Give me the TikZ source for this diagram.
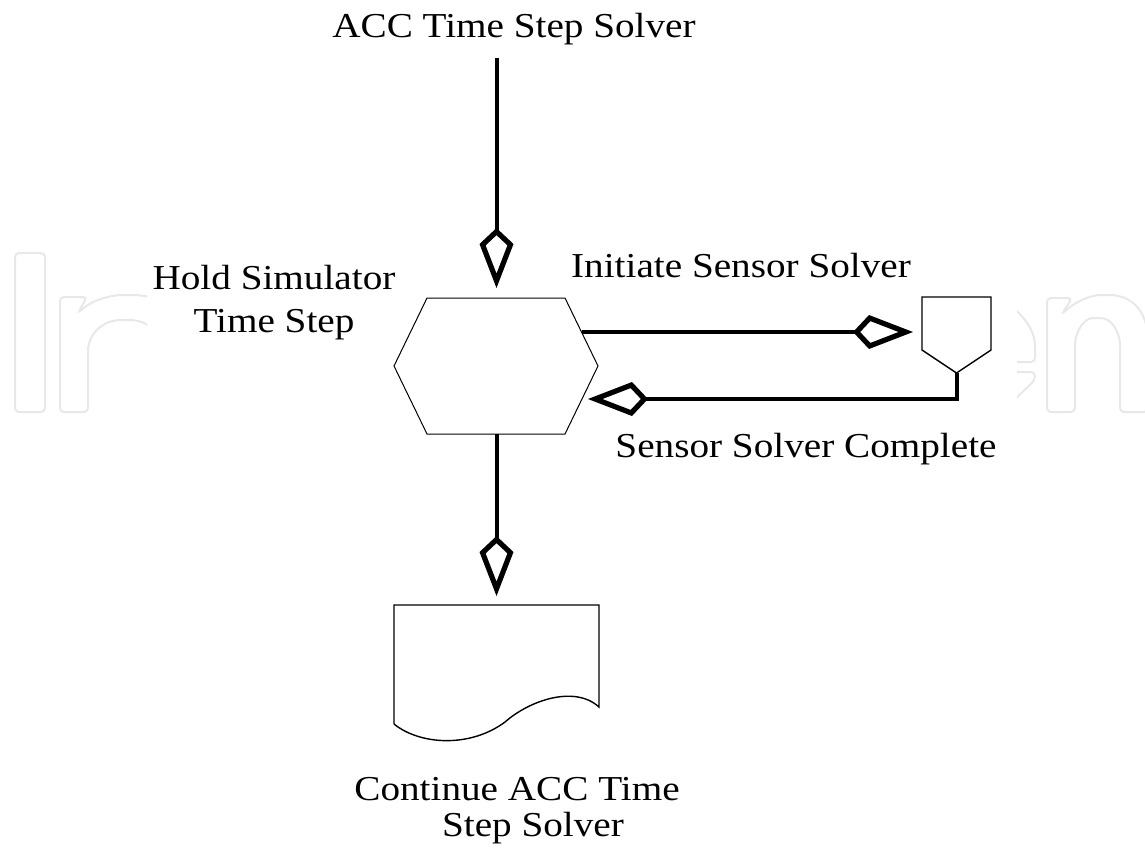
\documentclass[tikz,border=0pt]{standalone}
\usepackage{fontspec}
\setmainfont[FakeStretch=1.12]{Liberation Serif}
\usetikzlibrary{arrows.meta,calc}

\tikzset{
  % one unit = one pixel of the layout grid, y grows downwards
  x=0.5pt, y=-0.5pt,
  lbl/.style={anchor=base, inner sep=0pt, align=center,
              font=\fontsize{17.5}{21.5}\selectfont},
  flow/.style={line width=2pt, line join=miter,
               -{Kite[open,length=30pt,width=17pt,inset=8pt,line width=2.6pt]}},
  thinline/.style={line width=0.5pt},
  boxline/.style={line width=0.7pt},
  wmark/.style={draw=black!9, line width=1pt, rounded corners=2pt},
}

\begin{document}
\begin{tikzpicture}
\useasboundingbox (0,0) rectangle (1145,852);

% faint publisher lettering behind the chart, hidden in the middle
\begin{scope}
  \clip (0,240) rectangle (147,420) (1017,240) rectangle (1145,420);
  % I
  \draw[wmark] (15,253) rectangle (45,412);
  % n (left)
  \draw[wmark] (60,412) -- (60,297) -- (87,297) -- (78,313)
     .. controls (92,300) and (110,295) .. (128,295)
     .. controls (168,295) and (190,318) .. (190,355) -- (190,412) -- (162,412) -- (162,358)
     .. controls (162,335) and (150,320) .. (125,320)
     .. controls (102,320) and (88,335) .. (88,355) -- (88,412) -- cycle;
  % e (partial)
  \draw[wmark] (1005,302) .. controls (1025,315) and (1035,332) .. (1035,350)
     -- (1035,362) -- (1005,362);
  \draw[wmark] (1005,372) -- (1035,372) -- (1035,380) -- (1012,402);
  % n (right)
  \draw[wmark] (1047,412) -- (1047,298) -- (1072,298) -- (1062,314)
     .. controls (1075,302) and (1090,295) .. (1105,295)
     .. controls (1135,295) and (1148,315) .. (1148,345) -- (1148,412) -- (1120,412) -- (1120,350)
     .. controls (1120,330) and (1110,318) .. (1097,318)
     .. controls (1085,318) and (1075,330) .. (1075,350) -- (1075,412) -- cycle;
\end{scope}

% labels (a multi-line label sits on the baseline of its last line)
\node[lbl] (src)     at (514,37)  {ACC Time Step Solver};
\node[lbl] (holdlbl) at (274,332) {Hold Simulator\\Time Step};
\node[lbl] (initlbl) at (741,277) {Initiate Sensor Solver};
\node[lbl] (donelbl) at (806,457) {Sensor Solver Complete};
\node[lbl, font=\fontsize{17.5}{18}\selectfont] (contlbl) at (517,836)
      {Continue ACC Time\\\hspace*{16pt}Step Solver};

% hexagon: hold the simulator step
\draw[thinline] (427,298) -- (565,298) -- (598,366) -- (565,434)
                -- (427,434) -- (394,366) -- cycle;

% sensor solver symbol
\draw[boxline] (922,297) -- (991,297) -- (991,350) -- (956.5,373)
               -- (922,350) -- cycle;

% document symbol
\draw[boxline] (394,724) -- (394,605) -- (599,605) -- (599,707)
     .. controls (575,685) and (530,700) .. (505,722)
     .. controls (470,748) and (420,745) .. (394,724);

% connector end points on the shapes
\coordinate (srcEnd) at (496.5,58);
\coordinate (hexTop) at (496.5,298);
\coordinate (hexBot) at (496.5,434);
\coordinate (hexOut) at (581.5,332);
\coordinate (hexIn)  at (582,399);
\coordinate (sensW)  at (922,332);
\coordinate (sensS)  at (956.5,373);
\coordinate (docTop) at (496.5,605);

% connectors
\draw[flow, shorten >=5pt]   (srcEnd) -- (hexTop);
\draw[flow, shorten >=4.5pt] (hexOut) -- (sensW);
\draw[flow, shorten >=3pt]   (sensS) |- (hexIn);
\draw[flow, shorten >=4.5pt] (hexBot) -- (docTop);
\end{tikzpicture}
\end{document}
